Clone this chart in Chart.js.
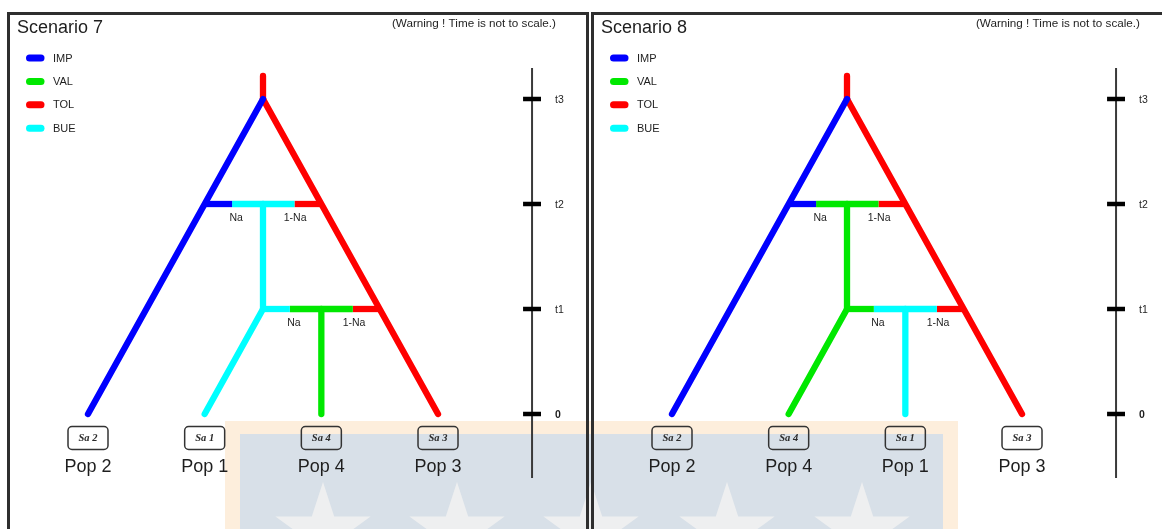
<!DOCTYPE html>
<html>
<head>
<meta charset="utf-8">
<title>Scenarios 7 and 8</title>
<script src="https://cdn.jsdelivr.net/npm/chart.js@4.4.1/dist/chart.umd.min.js"></script>
<style>
  html, body { margin: 0; padding: 0; background: #fff; }
  body { position: relative; width: 1162px; height: 529px; overflow: hidden; }
  #backdrop { position: absolute; left: 0; top: 0; }
  .panel { position: absolute; top: 12px; width: 582px; height: 530px; }
  .panel canvas { position: absolute; left: 0; top: 0; }
  .frame { position: absolute; left: 0; top: 0; width: 582px; height: 530px; box-sizing: border-box;
           border: 3px solid #2e2e2e; border-bottom: none; pointer-events: none; }
  #p7 { left: 7px; }
  #p8 { left: 591px; }
</style>
</head>
<body>
<svg id="backdrop" width="1162" height="529" xmlns="http://www.w3.org/2000/svg">
  <defs><clipPath id="inner"><rect x="240" y="434" width="703" height="110"/></clipPath></defs>
  <rect x="225" y="421" width="733" height="120" fill="#fdeedc"/>
  <rect x="240" y="434" width="703" height="110" fill="#d8e0e8"/>
  <g id="stars" clip-path="url(#inner)" fill="#eeeff0"></g>
</svg>

<div class="panel" id="p7"><canvas id="c7" width="582" height="517"></canvas><div class="frame"></div></div>
<div class="panel" id="p8"><canvas id="c8" width="582" height="517"></canvas><div class="frame"></div></div>

<script>
// ---- Leaf order along the bottom of each scenario ----
const leaves7  = ['Pop 2', 'Pop 1', 'Pop 4', 'Pop 3'];
const samples7 = ['Sa 2', 'Sa 1', 'Sa 4', 'Sa 3'];
const leaves8  = ['Pop 2', 'Pop 4', 'Pop 1', 'Pop 3'];
const samples8 = ['Sa 2', 'Sa 4', 'Sa 1', 'Sa 3'];

// ---- Time axis (not to scale) ----
const timeValues = [0, 1, 2, 3];
const timeLabels = ['0', 't1', 't2', 't3'];

// ---- Populations ----
const popNames  = ['IMP', 'VAL', 'TOL', 'BUE'];
const popColors = ['#0000ff', '#00e800', '#ff0000', '#00ffff'];

// ---- Branches: [population, x from, t from, x to, t to]  (x = leaf slot, t = time) ----
const branches7 = [
  ['IMP', 0, 0, 1.5, 3],
  ['TOL', 3, 0, 1.5, 3],
  ['TOL', 1.5, 3, 1.5, 3.22],
  ['BUE', 1.5, 2, 1.5, 1],
  ['BUE', 1.5, 1, 1, 0],
  ['VAL', 2, 1, 2, 0]
];
const branches8 = [
  ['IMP', 0, 0, 1.5, 3],
  ['TOL', 3, 0, 1.5, 3],
  ['TOL', 1.5, 3, 1.5, 3.22],
  ['VAL', 1.5, 2, 1.5, 1],
  ['VAL', 1.5, 1, 1, 0],
  ['BUE', 2, 1, 2, 0]
];

// ---- Admixture bars: [population, x from, x to, t] ----
const admix7 = [
  ['IMP', 1, 1.235, 2], ['BUE', 1.235, 1.77, 2], ['TOL', 1.77, 2, 2],
  ['BUE', 1.5, 1.73, 1], ['VAL', 1.73, 2.27, 1], ['TOL', 2.27, 2.5, 1]
];
const admix8 = [
  ['IMP', 1, 1.235, 2], ['VAL', 1.235, 1.77, 2], ['TOL', 1.77, 2, 2],
  ['VAL', 1.5, 1.73, 1], ['BUE', 1.73, 2.27, 1], ['TOL', 2.27, 2.5, 1]
];

// ---- Admixture rates: [label, x, t] ----
const rates7 = [['Na', 1.27, 2], ['1-Na', 1.775, 2], ['Na', 1.765, 1], ['1-Na', 2.28, 1]];
const rates8 = [['Na', 1.27, 2], ['1-Na', 1.775, 2], ['Na', 1.765, 1], ['1-Na', 2.28, 1]];

// ---- Geometry of a panel ----
const CANVAS_W = 582, CANVAS_H = 517;
const PX_PER_SLOT = 116.67;   // horizontal distance between leaves
const PX_PER_T = 105;         // vertical distance between time marks
const LEAF0_PX = 81;          // first leaf, canvas x
const T0_PX = 402;            // time 0, canvas y
const AXIS_X = 3.806;         // time axis position, in leaf slots
const TICK_HALF = 0.077;
const AXIS_T = [-0.61, 3.295];

const xMin = -LEAF0_PX / PX_PER_SLOT;
const xMax = xMin + CANVAS_W / PX_PER_SLOT;
const yMax = T0_PX / PX_PER_T;
const yMin = yMax - CANVAS_H / PX_PER_T;

const colorOf = name => popColors[popNames.indexOf(name)];

function seg(points, color, width, cap) {
  return {
    data: points.map(([x, y]) => ({ x, y })),
    showLine: true,
    borderColor: color,
    backgroundColor: color,
    borderWidth: width,
    borderCapStyle: cap,
    borderJoinStyle: 'round',
    pointRadius: 0,
    pointHoverRadius: 0,
    fill: false
  };
}

function buildDatasets(branches, admix) {
  const sets = [];
  // tick marks sit on top of the axis line
  timeValues.forEach(t => sets.push(seg([[AXIS_X - TICK_HALF, t], [AXIS_X + TICK_HALF, t]], '#000', 4.5, 'butt')));
  sets.push(seg([[AXIS_X, AXIS_T[0]], [AXIS_X, AXIS_T[1]]], '#3a3a3a', 2, 'butt'));
  admix.forEach(([pop, a, b, t]) => sets.push(seg([[a, t], [b, t]], colorOf(pop), 6.3, 'butt')));
  branches.forEach(([pop, x1, t1, x2, t2]) => sets.push(seg([[x1, t1], [x2, t2]], colorOf(pop), 6.3, 'round')));
  return sets;
}

function roundRect(ctx, x, y, w, h, r) {
  ctx.beginPath();
  ctx.moveTo(x + r, y);
  ctx.lineTo(x + w - r, y);
  ctx.arcTo(x + w, y, x + w, y + r, r);
  ctx.lineTo(x + w, y + h - r);
  ctx.arcTo(x + w, y + h, x + w - r, y + h, r);
  ctx.lineTo(x + r, y + h);
  ctx.arcTo(x, y + h, x, y + h - r, r);
  ctx.lineTo(x, y + r);
  ctx.arcTo(x, y, x + r, y, r);
  ctx.closePath();
}

// Titles, legend, rate labels, sample boxes and time labels
const scenePlugin = {
  id: 'scene',
  afterDatasetsDraw(chart, args, o) {
    const { ctx } = chart;
    const xs = chart.scales.x, ys = chart.scales.y;
    ctx.save();
    const ink = '#1e1e1e';

    // scenario title and warning
    ctx.fillStyle = ink;
    ctx.textBaseline = 'alphabetic';
    ctx.textAlign = 'left';
    ctx.font = '18px "Liberation Sans", Arial, sans-serif';
    ctx.fillText(o.title, 10, 21);
    ctx.textAlign = 'right';
    ctx.font = '11.7px "Liberation Sans", Arial, sans-serif';
    ctx.fillText('(Warning ! Time is not to scale.)', 549, 15);

    // legend
    popNames.forEach((name, i) => {
      const yy = 46 + i * 23.4;
      ctx.strokeStyle = popColors[i];
      ctx.lineWidth = 7;
      ctx.lineCap = 'round';
      ctx.beginPath();
      ctx.moveTo(22.5, yy);
      ctx.lineTo(34, yy);
      ctx.stroke();
      ctx.fillStyle = ink;
      ctx.textAlign = 'left';
      ctx.textBaseline = 'middle';
      ctx.font = '11px "Liberation Sans", Arial, sans-serif';
      ctx.fillText(name, 46, yy + 0.5);
    });

    // admixture rates
    ctx.textAlign = 'center';
    ctx.textBaseline = 'middle';
    ctx.font = '10.5px "Liberation Sans", Arial, sans-serif';
    ctx.fillStyle = ink;
    o.rates.forEach(([label, x, t]) => {
      ctx.fillText(label, xs.getPixelForValue(x), ys.getPixelForValue(t) + 14);
    });

    // sample boxes and population names
    const y0 = ys.getPixelForValue(0);
    o.leaves.forEach((pop, i) => {
      const cx = xs.getPixelForValue(i);
      ctx.strokeStyle = '#333';
      ctx.lineWidth = 1.5;
      roundRect(ctx, cx - 20, y0 + 12.5, 40, 23, 4);
      ctx.stroke();
      ctx.fillStyle = '#2a2a2a';
      ctx.font = 'italic bold 10.5px "Liberation Serif", "Times New Roman", serif';
      ctx.textAlign = 'center';
      ctx.textBaseline = 'middle';
      ctx.fillText(o.samples[i], cx, y0 + 24.5);
      ctx.fillStyle = ink;
      ctx.font = '18px "Liberation Sans", Arial, sans-serif';
      ctx.textBaseline = 'alphabetic';
      ctx.fillText(pop, cx, y0 + 58);
    });

    // time labels
    const lx = xs.getPixelForValue(AXIS_X) + 23;
    ctx.textAlign = 'left';
    ctx.textBaseline = 'middle';
    timeValues.forEach((t, i) => {
      ctx.font = (t === 0 ? 'bold ' : '') + '10.5px "Liberation Sans", Arial, sans-serif';
      ctx.fillStyle = ink;
      ctx.fillText(timeLabels[i], lx, ys.getPixelForValue(t) + 1);
    });
    ctx.restore();
  }
};

function makeChart(id, title, leaves, samples, branches, admix, rates) {
  return new Chart(document.getElementById(id), {
    type: 'scatter',
    data: { datasets: buildDatasets(branches, admix) },
    options: {
      responsive: false,
      animation: false,
      events: [],
      layout: { padding: 0 },
      scales: {
        x: { type: 'linear', display: false, min: xMin, max: xMax },
        y: { type: 'linear', display: false, min: yMin, max: yMax }
      },
      plugins: {
        legend: { display: false },
        tooltip: { enabled: false },
        title: { display: false },
        scene: { title, leaves, samples, rates }
      }
    },
    plugins: [scenePlugin]
  });
}

makeChart('c7', 'Scenario 7', leaves7, samples7, branches7, admix7, rates7);
makeChart('c8', 'Scenario 8', leaves8, samples8, branches8, admix8, rates8);

// faint star pattern in the lower band
(function () {
  const g = document.getElementById('stars');
  const centers = [323, 457, 591, 727, 862];
  centers.forEach(cx => {
    const cy = 532, R = 50, r = R * 0.382;
    const pts = [];
    for (let k = 0; k < 10; k++) {
      const ang = -Math.PI / 2 + k * Math.PI / 5;
      const rad = k % 2 === 0 ? R : r;
      pts.push((cx + rad * Math.cos(ang)).toFixed(1) + ',' + (cy + rad * Math.sin(ang)).toFixed(1));
    }
    const p = document.createElementNS('http://www.w3.org/2000/svg', 'polygon');
    p.setAttribute('points', pts.join(' '));
    g.appendChild(p);
  });
})();
</script>
</body>
</html>
